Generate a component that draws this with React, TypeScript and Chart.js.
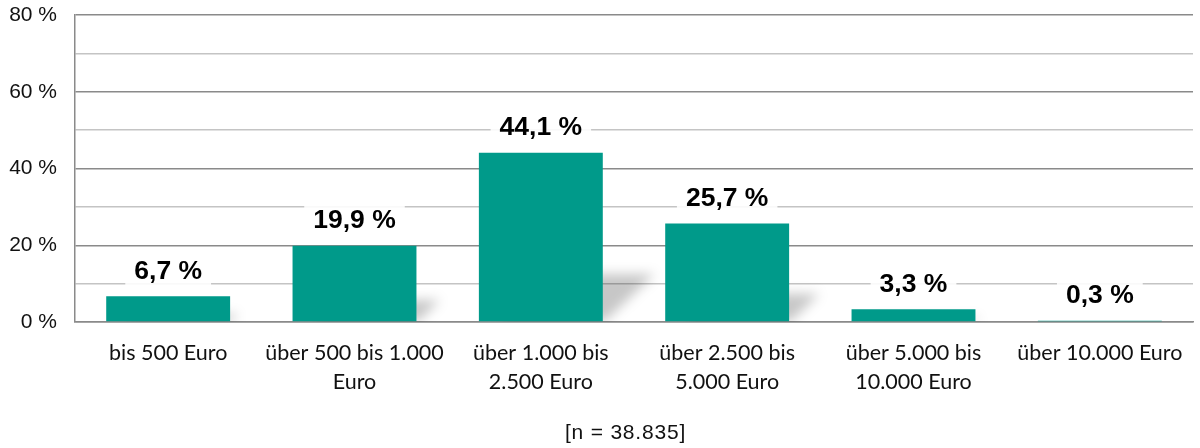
import React, { useEffect, useRef } from "react";
import { Chart, registerables } from "chart.js";

Chart.register(...registerables);

const categories: string[][] = [
  ["bis 500 Euro"],
  ["über 500 bis 1.000", "Euro"],
  ["über 1.000 bis", "2.500 Euro"],
  ["über 2.500 bis", "5.000 Euro"],
  ["über 5.000 bis", "10.000 Euro"],
  ["über 10.000 Euro"],
];
const values: number[] = [6.7, 19.9, 44.1, 25.7, 3.3, 0.3];
const yTicks: number[] = [0, 20, 40, 60, 80];
const footnote = "[n = 38.835]";

const BAR_COLOR = "#009A8A";

const shadowPlugin = {
  id: "barShadow",
  beforeDatasetsDraw(chart: any) {
    const ctx = chart.ctx;
    const meta = chart.getDatasetMeta(0);
    const area = chart.chartArea;
    ctx.save();
    ctx.beginPath();
    ctx.rect(area.left, area.top, area.right - area.left, area.bottom - area.top);
    ctx.clip();
    ctx.filter = "blur(6px)";
    ctx.fillStyle = "rgba(0,0,0,0.22)";
    meta.data.forEach((bar: any) => {
      const { x, y, base, width } = bar.getProps(["x", "y", "base", "width"], true);
      const right = x + width / 2;
      const left = x - width / 2;
      const h = (base - y) * 0.28;
      if (h < 2) return;
      const s = h * 1.1;
      ctx.beginPath();
      ctx.moveTo(left + 20, base);
      ctx.lineTo(right + 2, base);
      ctx.lineTo(right + s, base - h);
      ctx.lineTo(left + 20 + s, base - h);
      ctx.closePath();
      ctx.fill();
    });
    ctx.restore();
  },
};

const labelPlugin = {
  id: "valueLabels",
  afterDatasetsDraw(chart: any) {
    const ctx = chart.ctx;
    const meta = chart.getDatasetMeta(0);
    ctx.save();
    ctx.font = "bold 26.5px 'Liberation Sans', Arial, sans-serif";
    ctx.textAlign = "center";
    ctx.textBaseline = "middle";
    meta.data.forEach((bar: any, i: number) => {
      const { x, y } = bar.getProps(["x", "y"], true);
      const text = values[i].toFixed(1).replace(".", ",") + " %";
      const w = ctx.measureText(text).width;
      const cy = y - 26;
      ctx.fillStyle = "rgba(255,255,255,0.9)";
      ctx.fillRect(x - w / 2 - 9, cy - 14, w + 18, 29);
      ctx.fillStyle = "#000000";
      ctx.fillText(text, x, cy + 1);
    });
    ctx.restore();
  },
};

export default function App() {
  const canvasRef = useRef<HTMLCanvasElement | null>(null);

  useEffect(() => {
    document.body.style.margin = "0";
    const canvas = canvasRef.current;
    if (!canvas) return;
    const chart = new Chart(canvas, {
      type: "bar",
      data: {
        labels: categories,
        datasets: [
          {
            data: values,
            backgroundColor: BAR_COLOR,
            borderWidth: 0,
            categoryPercentage: 1,
            barPercentage: 0.665,
          },
        ],
      },
      options: {
        responsive: false,
        animation: false,
        layout: { padding: { top: 15, right: 7, left: 0, bottom: 0 } },
        plugins: {
          legend: { display: false },
          tooltip: { enabled: false },
        },
        scales: {
          x: {
            grid: { display: false, drawTicks: false },
            border: { display: true, color: "#8a8a8a", width: 1.5 },
            ticks: {
              color: "#111",
              font: { family: "Lato, 'Noto Sans', sans-serif", size: 21.5, lineHeight: 1.35 },
              padding: 16.5,
              maxRotation: 0,
              autoSkip: false,
            },
            afterFit(scale: any) {
              scale.height = 126;
              scale.paddingLeft = 0;
              scale.paddingRight = 0;
            },
          },
          y: {
            min: 0,
            max: 80,
            ticks: {
              stepSize: 10,
              color: "#111",
              padding: 18,
              font: { family: "'Liberation Sans', Arial, sans-serif", size: 21 },
              callback: (v: any) => (yTicks.includes(Number(v)) ? `${v} %` : ""),
            },
            grid: {
              drawTicks: false,
              lineWidth: 1.5,
              color: (c: any) =>
                c.tick && yTicks.includes(c.tick.value) ? "#8a8a8a" : "#c4c4c4",
            },
            border: { display: true, color: "#8a8a8a", width: 1.5 },
            afterFit(scale: any) {
              scale.width = 75;
              scale.paddingTop = 0;
              scale.paddingBottom = 0;
            },
          },
        },
      },
      plugins: [shadowPlugin, labelPlugin],
    });
    return () => chart.destroy();
  }, []);

  return (
    <div style={{ position: "relative", width: 1200, height: 448, background: "#fff" }}>
      <canvas ref={canvasRef} width={1200} height={448} />
      <div
        style={{
          position: "absolute",
          left: 0,
          width: 1251,
          top: 419,
          textAlign: "center",
          fontFamily: "'Liberation Sans', Arial, sans-serif",
          fontSize: 21,
          letterSpacing: 0.8,
          color: "#111",
          lineHeight: "26px",
        }}
      >
        {footnote}
      </div>
    </div>
  );
}
